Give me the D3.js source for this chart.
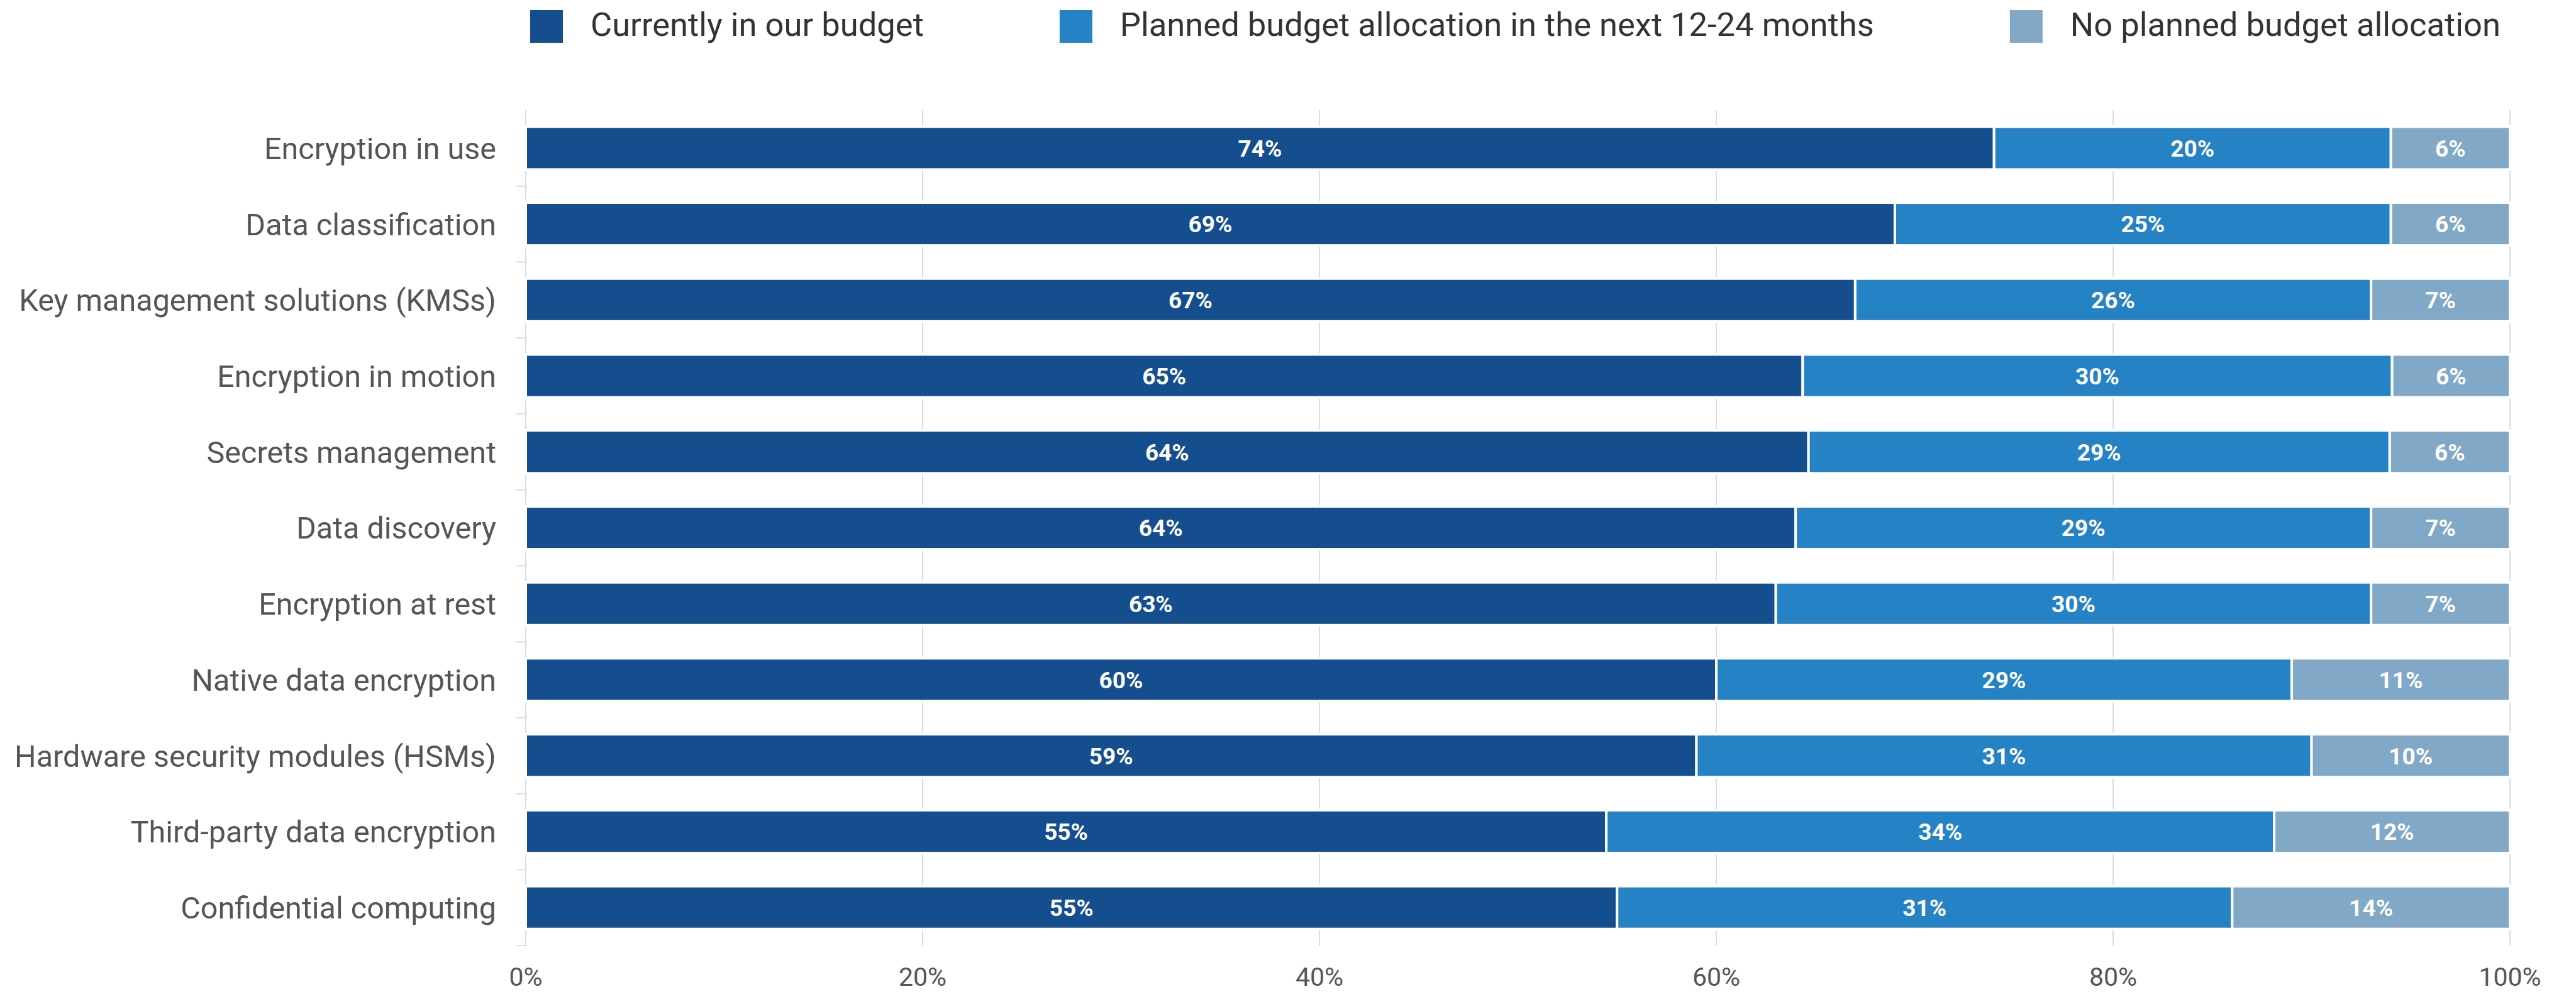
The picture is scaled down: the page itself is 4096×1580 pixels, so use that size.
<!DOCTYPE html>
<html>
<head>
<meta charset="utf-8">
<script src="https://cdn.jsdelivr.net/npm/d3@7"></script>
<style>
  html, body { margin: 0; padding: 0; background: #fff; }
  svg { display: block; font-family: Roboto, "Noto Sans", sans-serif; }
</style>
</head>
<body>
<script>
// Budget allocation by data-protection technology (share of respondents)
const categories = [
  "Encryption in use",
  "Data classification",
  "Key management solutions (KMSs)",
  "Encryption in motion",
  "Secrets management",
  "Data discovery ",
  "Encryption at rest",
  "Native data encryption",
  "Hardware security modules (HSMs)",
  "Third-party data encryption",
  "Confidential computing"
];
const currentBudget = [74, 69, 67, 65, 64, 64, 63, 60, 59, 55, 55];
const plannedBudget = [20, 25, 26, 30, 29, 29, 30, 29, 31, 34, 31];
const noPlannedBudget = [6, 6, 7, 6, 6, 7, 7, 11, 10, 12, 14];

const seriesNames = [
  "Currently in our budget",
  "Planned budget allocation in the next 12-24 months",
  "No planned budget allocation"
];
const seriesKeys = ["current", "planned", "none"];
const seriesColors = ["#144e8f", "#2582c5", "#81a9c7"];
const xTicks = [0, 0.2, 0.4, 0.6, 0.8, 1];

const W = 4096, H = 1580;
const margin = { left: 836, right: 105, top: 175, bottom: 77 };

const rows = categories.map((c, i) => ({
  category: c,
  current: currentBudget[i],
  planned: plannedBudget[i],
  none: noPlannedBudget[i]
}));

// 100% stacked layout: each row is normalised to its own total
const stacked = d3.stack()
  .keys(seriesKeys)
  .offset(d3.stackOffsetExpand)(rows);

const svg = d3.select("body").append("svg")
  .attr("width", W).attr("height", H);

const x = d3.scaleLinear().domain([0, 1]).range([margin.left, W - margin.right]);
const y = d3.scaleBand().domain(categories)
  .range([margin.top, H - margin.bottom])
  .paddingInner(0.436).paddingOuter(0.218);

// Vertical gridlines
svg.append("g").selectAll("line")
  .data(xTicks.filter(t => t > 0))
  .join("line")
  .attr("x1", d => x(d)).attr("x2", d => x(d))
  .attr("y1", margin.top).attr("y2", H - margin.bottom)
  .attr("stroke", "#dcdcdc").attr("stroke-width", 2);

// Left axis line with ticks at category boundaries
const yAxis = svg.append("g");
yAxis.append("line")
  .attr("x1", margin.left).attr("x2", margin.left)
  .attr("y1", margin.top).attr("y2", H - margin.bottom)
  .attr("stroke", "#dcdcdc").attr("stroke-width", 2);
const bounds = d3.range(categories.length + 1).map(i => margin.top + i * y.step());
yAxis.selectAll("line.tick")
  .data(bounds.slice(1))
  .join("line").attr("class", "tick")
  .attr("x1", margin.left - 15).attr("x2", margin.left)
  .attr("y1", d => d).attr("y2", d => d)
  .attr("stroke", "#dcdcdc").attr("stroke-width", 2);

// Category labels
svg.append("g").selectAll("text")
  .data(categories)
  .join("text")
  .attr("x", margin.left - 47)
  .attr("y", d => y(d) + y.bandwidth() / 2)
  .attr("dy", "0.36em")
  .attr("text-anchor", "end")
  .attr("font-size", 48.5)
  .attr("fill", "#555")
  .text(d => d);

// Stacked bars
const layers = svg.append("g").selectAll("g")
  .data(stacked)
  .join("g")
  .attr("fill", (d, i) => seriesColors[i]);

layers.selectAll("rect")
  .data(d => d)
  .join("rect")
  .attr("x", d => x(d[0]))
  .attr("y", d => y(d.data.category))
  .attr("width", d => x(d[1]) - x(d[0]))
  .attr("height", y.bandwidth())
  .attr("stroke", "#fff")
  .attr("stroke-width", 4);

// Value labels inside segments
layers.each(function (layer) {
  d3.select(this).selectAll("text")
    .data(layer)
    .join("text")
    .attr("x", d => (x(d[0]) + x(d[1])) / 2)
    .attr("y", d => y(d.data.category) + y.bandwidth() / 2)
    .attr("dy", "0.36em")
    .attr("text-anchor", "middle")
    .attr("font-size", 37)
    .attr("font-weight", 700)
    .attr("fill", "#fff")
    .text(d => d.data[layer.key] + "%");
});

// Bottom tick labels
svg.append("g").selectAll("text")
  .data(xTicks)
  .join("text")
  .attr("x", d => x(d))
  .attr("y", 1567)
  .attr("text-anchor", "middle")
  .attr("font-size", 41)
  .attr("fill", "#555")
  .text(d => d3.format(".0%")(d));

// Legend
const legend = svg.append("g");
let lx = 843;
seriesNames.forEach((name, i) => {
  const g = legend.append("g");
  g.append("rect")
    .attr("x", lx).attr("y", 16)
    .attr("width", 52).attr("height", 52)
    .attr("fill", seriesColors[i]);
  const t = g.append("text")
    .attr("x", lx + 96).attr("y", 57)
    .attr("font-size", 52.5)
    .attr("fill", "#333")
    .text(name);
  lx += 96 + t.node().getComputedTextLength() + 216;
});
</script>
</body>
</html>
